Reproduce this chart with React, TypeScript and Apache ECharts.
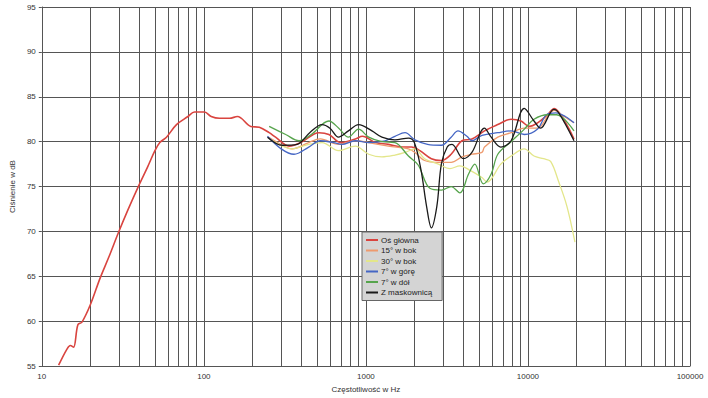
import React, { useEffect, useRef } from "react";
import * as echarts from "echarts";

const seriesNames = ["Oś główna", "15° w bok", "30° w bok", "7° w górę", "7° w dół", "Z maskownicą"];
const seriesColors = ["#d9443f", "#ee9a6e", "#e3e68a", "#4566c4", "#56a44c", "#1a1a1a"];

const mainFreq = [12.7, 14.3, 15.0, 15.7, 16.7, 17.7, 19.9, 22.9, 26, 29.6, 34, 39.4, 45, 49.9, 53.5, 58.8, 67.8, 79.8, 87.6, 101, 111, 125, 144, 161, 195, 220, 253, 277, 336, 397, 513, 591, 699, 861, 952, 1143, 1376, 1665, 1912, 2155, 2535, 2922, 3358, 3913, 4510, 5395, 6516, 7870, 9060, 10190, 11470, 13220, 14500, 16710, 19240];
const mainDb = [55.1, 56.9, 57.3, 57.1, 59.6, 59.9, 61.8, 64.8, 67.2, 69.8, 72.4, 75.0, 77.2, 79.0, 79.9, 80.5, 81.9, 82.8, 83.3, 83.3, 82.8, 82.6, 82.6, 82.8, 81.7, 81.6, 81.0, 80.5, 79.5, 79.9, 81.0, 80.8, 79.9, 80.3, 80.6, 79.9, 79.7, 79.4, 79.4, 79.0, 78.1, 77.9, 78.6, 80.1, 80.3, 81.2, 81.9, 82.5, 82.3, 81.7, 82.1, 83.0, 83.7, 82.4, 80.3];

const side15Freq = [250, 273, 351, 444, 523, 677, 861, 1040, 1376, 1830, 2008, 2300, 2800, 3358, 3913, 4510, 5200, 5395, 6516, 7870, 9500, 11470, 13220, 14500, 16710, 19240];
const side15Db = [80.5, 80.1, 79.2, 79.9, 80.3, 79.7, 80.1, 79.9, 79.5, 79.2, 78.8, 77.9, 77.7, 77.7, 78.3, 78.6, 78.8, 79.4, 80.5, 81.0, 81.5, 81.5, 82.8, 83.5, 82.8, 82.1];

const side30Freq = [250, 351, 444, 536, 677, 861, 1040, 1255, 1510, 1744, 2008, 2300, 2800, 3300, 3800, 4400, 5200, 5600, 6800, 7870, 9490, 10900, 12500, 13800, 15500, 17400, 19500];
const side30Db = [80.4, 79.2, 79.7, 79.9, 79.0, 79.5, 78.6, 78.3, 78.5, 78.8, 79.2, 78.1, 77.5, 77.0, 77.3, 76.8, 76.0, 75.5, 77.5, 78.4, 79.2, 78.4, 78.1, 77.8, 75.5, 72.8, 68.8];

const upFreq = [247, 300, 360, 444, 523, 632, 711, 861, 1040, 1311, 1510, 1744, 2008, 2400, 2922, 3358, 3700, 4200, 4510, 5200, 6516, 7870, 9500, 11470, 13000, 14860, 17000, 19240];
const upDb = [80.6, 79.2, 78.6, 79.4, 80.1, 79.9, 79.7, 80.1, 79.9, 80.1, 80.6, 81.0, 80.2, 79.7, 79.6, 80.5, 81.2, 80.6, 80.1, 80.7, 81.0, 81.2, 80.8, 81.4, 83.0, 83.2, 82.8, 82.1];

const downFreq = [253, 320, 387, 460, 591, 680, 780, 901, 1040, 1255, 1510, 1830, 2100, 2480, 2922, 3358, 3800, 4300, 4700, 5300, 5930, 6516, 7870, 9500, 10900, 13220, 15000, 19240];
const downDb = [81.7, 80.8, 80.1, 80.8, 82.3, 81.5, 80.5, 81.4, 80.5, 80.0, 79.9, 78.4, 77.4, 74.8, 74.6, 75.0, 74.3, 76.4, 77.5, 75.3, 76.4, 78.6, 80.0, 81.4, 82.5, 83.0, 83.0, 81.2];

const grillFreq = [247, 305, 377, 450, 536, 600, 677, 780, 901, 1090, 1255, 1510, 1830, 1990, 2190, 2368, 2535, 2740, 2922, 3175, 3400, 3990, 4510, 5390, 5930, 6800, 7870, 9490, 10900, 11960, 14470, 15500, 19240];
const grillDb = [80.5, 79.6, 79.7, 81.0, 81.9, 81.5, 80.5, 81.2, 81.9, 81.2, 80.5, 80.2, 80.4, 79.9, 76.8, 72.8, 70.4, 72.8, 77.5, 79.4, 79.7, 78.1, 78.8, 81.5, 80.5, 79.4, 80.1, 83.7, 82.3, 81.5, 83.6, 83.2, 80.1];

const minorGridFreq = [20, 30, 40, 50, 60, 70, 80, 90, 200, 300, 400, 500, 600, 700, 800, 900, 2000, 3000, 4000, 5000, 6000, 7000, 8000, 9000, 20000, 30000, 40000, 50000, 60000, 70000, 80000, 90000];

const allFreq = [mainFreq, side15Freq, side30Freq, upFreq, downFreq, grillFreq];
const allDb = [mainDb, side15Db, side30Db, upDb, downDb, grillDb];

const FONT = "'Liberation Sans', Arial, sans-serif";

export default function App() {
  const ref = useRef<HTMLDivElement>(null);
  useEffect(() => {
    if (!ref.current) return;
    const chart = echarts.init(ref.current, null, { renderer: "svg" });
    const series = seriesNames.map((name, i) => {
      const s: any = {
        name,
        type: "line",
        data: allFreq[i].map((f, j) => [f, allDb[i][j]]),
        showSymbol: false,
        symbol: "none",
        smooth: 0.35,
        lineStyle: { color: seriesColors[i], width: i === 0 ? 1.6 : 1.3 },
        itemStyle: { color: seriesColors[i] },
        z: 3 + i,
      };
      if (i === 0) {
        s.markLine = {
          silent: true,
          symbol: ["none", "none"],
          label: { show: false },
          lineStyle: { color: "#555", width: 1, type: "solid" },
          emphasis: { disabled: true },
          data: minorGridFreq.map((v) => ({ xAxis: v })),
          z: 1,
        };
      }
      return s;
    });
    chart.setOption({
      animation: false,
      backgroundColor: "#fff",
      textStyle: { fontFamily: FONT },
      grid: { left: 38, right: 18, top: 7, bottom: 26, containLabel: false },
      legend: {
        data: seriesNames,
        orient: "vertical",
        left: 362,
        top: 232,
        backgroundColor: "#d4d4d4",
        borderColor: "#666",
        borderWidth: 1,
        padding: [4, 10, 4, 4],
        itemWidth: 12,
        itemHeight: 2,
        itemGap: 2.5,
        icon: "rect",
        textStyle: { fontSize: 8, color: "#222", fontFamily: FONT, padding: [0, 0, 0, -2] },
      },
      xAxis: {
        type: "log",
        logBase: 10,
        min: 10,
        max: 100000,
        name: "Częstotliwość w Hz",
        nameLocation: "middle",
        nameGap: 15,
        nameTextStyle: { fontSize: 8, color: "#333", fontFamily: FONT },
        axisLine: { show: true, lineStyle: { color: "#555" } },
        axisTick: { show: false },
        axisLabel: {
          fontSize: 8,
          color: "#333",
          margin: 6,
          fontFamily: FONT,
          formatter: (v: number) => String(Math.round(v)),
        },
        splitLine: { show: true, lineStyle: { color: "#555", width: 1 } },
      },
      yAxis: {
        type: "value",
        min: 55,
        max: 95,
        interval: 5,
        name: "Ciśnienie w dB",
        nameLocation: "middle",
        nameGap: 22,
        nameTextStyle: { fontSize: 8, color: "#333", fontFamily: FONT },
        axisLine: { show: true, lineStyle: { color: "#555" } },
        axisTick: { show: true, length: 3, lineStyle: { color: "#555" } },
        axisLabel: { fontSize: 8, color: "#333", margin: 6, fontFamily: FONT },
        splitLine: { show: true, lineStyle: { color: "#555", width: 1 } },
      },
      series,
    });
    return () => chart.dispose();
  }, []);
  return <div ref={ref} style={{ width: 708, height: 398, position: "fixed", left: 0, top: 0 }} />;
}
